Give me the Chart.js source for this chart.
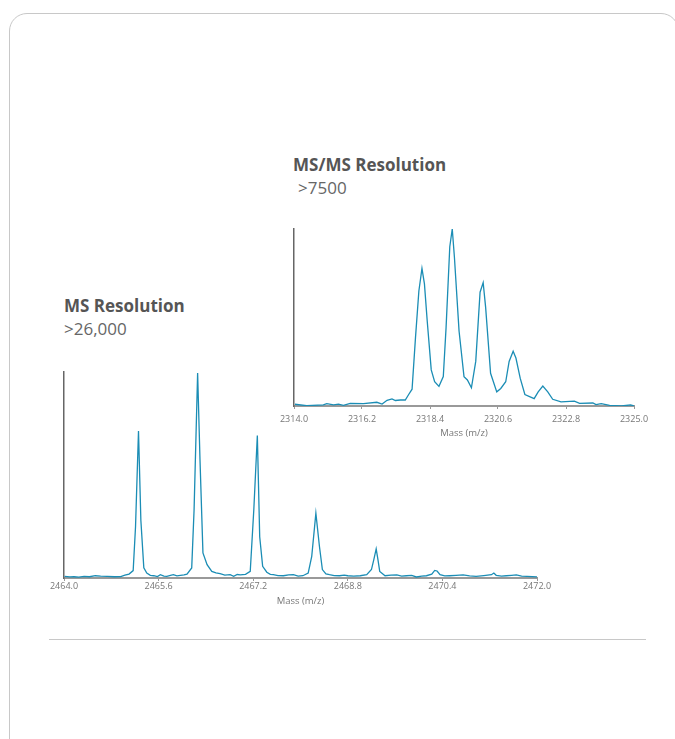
<!DOCTYPE html>
<html>
<head>
<meta charset="utf-8">
<script src="https://cdn.jsdelivr.net/npm/chart.js@4"></script>
<style>
  body { margin: 0; background: #fff; font-family: "Open Sans", sans-serif; overflow: hidden; }
  #card { position: absolute; left: 9px; top: 13px; width: 668px; height: 745px; border: 1px solid #c8c8c8; border-radius: 18px; }
  #rule { position: absolute; left: 49px; top: 639px; width: 597px; height: 0; border-top: 1px solid #c8c8c8; }
  .head { position: absolute; font-size: 17px; line-height: 20px; color: #555; white-space: nowrap; }
  .head.bold { font-weight: 700; }
  .head.sub { color: #666; }
  canvas { position: absolute; }
  #msmsChart { left: 274px; top: 225px; }
  #msChart { left: 44px; top: 368px; }
</style>
</head>
<body>
<div id="card"></div>
<div id="rule"></div>

<div class="head bold" style="left:293px; top:155px;">MS/MS Resolution</div>
<div class="head sub" style="left:298px; top:178px;">&gt;7500</div>
<div class="head bold" style="left:64px; top:296px;">MS Resolution</div>
<div class="head sub" style="left:64px; top:319px;">&gt;26,000</div>

<canvas id="msmsChart" width="380" height="214"></canvas>
<canvas id="msChart" width="513" height="239"></canvas>

<script>
// MS/MS spectrum (top right)
const msmsMass = [
  2314.03, 2314.41, 2314.95, 2315.06, 2315.28, 2315.44, 2315.60, 2315.82, 2316.25, 2316.68,
  2316.85, 2317.01, 2317.17, 2317.28, 2317.44, 2317.60, 2317.71, 2317.82, 2317.93, 2318.04,
  2318.14, 2318.22, 2318.31, 2318.44, 2318.55, 2318.69, 2318.83, 2318.92, 2319.04, 2319.12,
  2319.19, 2319.34, 2319.50, 2319.61, 2319.74, 2319.88, 2320.02, 2320.12, 2320.20, 2320.36,
  2320.56, 2320.69, 2320.85, 2320.96, 2321.09, 2321.18, 2321.32, 2321.47, 2321.64, 2321.77,
  2321.90, 2322.05, 2322.21, 2322.37, 2322.64, 2323.07, 2323.24, 2323.67, 2323.77, 2323.94,
  2324.21, 2324.59, 2324.89, 2325.00
];
const msmsIntensity = [
  1.0, 0.2, 0.6, 1.3, 0.6, 1.0, 0.4, 1.5, 1.3, 2.1,
  1.1, 3.2, 4.0, 3.1, 3.4, 3.4, 6.5, 9.5, 38.5, 65,
  77.7, 69, 48, 20.4, 13.7, 11.1, 16.6, 44.3, 90, 100,
  84, 42.4, 16.6, 14.7, 10.3, 25.2, 64.3, 69.7, 55.7, 18.5,
  8.0, 9.9, 13.7, 25.2, 30.9, 27.1, 15.6, 6.5, 5.2, 4.2,
  8.0, 11.3, 8.0, 3.8, 2.3, 2.7, 1.5, 1.7, 0.8, 1.3,
  0.4, 0.0, 0.6, 0.0
];
const msmsTicks = [2314.0, 2316.2, 2318.4, 2320.6, 2322.8, 2325.0];

// MS spectrum (bottom left)
const msMass = [
  2464.01, 2464.10, 2464.17, 2464.25, 2464.34, 2464.43, 2464.53, 2464.62, 2464.73, 2464.85,
  2464.96, 2465.03, 2465.10, 2465.17, 2465.21, 2465.26, 2465.30, 2465.35, 2465.40, 2465.46,
  2465.52, 2465.58, 2465.63, 2465.69, 2465.74, 2465.80, 2465.85, 2465.91, 2465.97, 2466.03,
  2466.08, 2466.16, 2466.20, 2466.26, 2466.30, 2466.35, 2466.42, 2466.50, 2466.57, 2466.64,
  2466.72, 2466.81, 2466.87, 2466.93, 2466.98, 2467.07, 2467.15, 2467.21, 2467.27, 2467.31,
  2467.36, 2467.43, 2467.49, 2467.54, 2467.62, 2467.71, 2467.80, 2467.88, 2467.96, 2468.04,
  2468.13, 2468.19, 2468.26, 2468.32, 2468.37, 2468.43, 2468.49, 2468.57, 2468.66, 2468.74,
  2468.80, 2468.90, 2469.01, 2469.12, 2469.20, 2469.24, 2469.28, 2469.31, 2469.34, 2469.43,
  2469.53, 2469.63, 2469.71, 2469.79, 2469.88, 2469.96, 2470.05, 2470.13, 2470.22, 2470.27,
  2470.31, 2470.36, 2470.44, 2470.52, 2470.63, 2470.75, 2470.86, 2470.97, 2471.10, 2471.23,
  2471.27, 2471.31, 2471.40, 2471.48, 2471.57, 2471.65, 2471.74, 2471.83, 2471.92, 2472.00
];
const msIntensity = [
  0.8, 0.5, 0.6, 0.4, 0.8, 0.6, 1.1, 0.9, 0.8, 0.6,
  0.7, 1.4, 1.9, 3.6, 25, 71.3, 28, 4.9, 2.4, 1.3,
  1.1, 0.7, 1.6, 0.9, 0.8, 1.3, 1.6, 1.0, 1.3, 1.5,
  1.9, 4.9, 33, 99.5, 57.5, 12.2, 6.5, 3.2, 2.5, 2.1,
  1.4, 1.6, 0.8, 1.7, 1.5, 1.8, 3.2, 33, 69.2, 20,
  5.7, 2.8, 1.8, 1.6, 1.2, 1.1, 1.5, 1.6, 0.9, 1.1,
  2.4, 10.5, 31.5, 15.4, 4.1, 2.0, 1.6, 1.2, 1.1, 1.4,
  1.1, 0.9, 1.1, 1.6, 4.1, 8.9, 14.1, 8.9, 3.2, 1.1,
  1.4, 1.5, 0.9, 1.1, 1.3, 0.5, 0.9, 1.1, 1.9, 3.7,
  3.4, 1.6, 1.0, 1.1, 1.3, 1.5, 1.0, 0.8, 1.2, 1.6,
  2.4, 1.3, 0.9, 1.1, 1.3, 1.5, 0.9, 0.8, 0.7, 0.5
];
const msTicks = [2464.0, 2465.6, 2467.2, 2468.8, 2470.4, 2472.0];

Chart.defaults.font.family = "'Open Sans', sans-serif";

function makeSpectrum(id, mass, intensity, tickValues, tickPad, axisHeight) {
  const ctx = document.getElementById(id).getContext('2d');
  return new Chart(ctx, {
    type: 'line',
    data: {
      datasets: [{
        data: mass.map((m, i) => ({ x: m, y: intensity[i] })),
        borderColor: '#1b8db5',
        borderWidth: 1.3,
        pointRadius: 0,
        tension: 0,
        fill: false,
      }],
    },
    options: {
      responsive: false,
      animation: false,
      layout: { padding: { left: 20, right: 20, top: 4, bottom: 0 } },
      plugins: { legend: { display: false }, tooltip: { enabled: false } },
      scales: {
        x: {
          type: 'linear',
          min: tickValues[0],
          max: tickValues[tickValues.length - 1],
          afterBuildTicks: s => { s.ticks = tickValues.map(v => ({ value: v })); },
          afterFit: s => { s.height = axisHeight; },
          ticks: {
            callback: v => Number(v).toFixed(1),
            font: { size: 9 },
            color: '#777',
            padding: tickPad,
            maxRotation: 0,
            autoSkip: false,
          },
          grid: { display: true, drawOnChartArea: false, drawTicks: true, tickLength: 3, color: '#999' },
          border: { display: true, color: '#999', width: 2 },
          title: { display: true, text: 'Mass (m/z)', font: { size: 9.5 }, color: '#777', padding: 0 },
        },
        y: {
          min: 0,
          max: 100,
          afterFit: s => { s.width = 0; },
          ticks: { display: false },
          grid: { display: false, drawTicks: false },
          border: { display: true, color: '#666', width: 1.5 },
        },
      },
    },
  });
}

makeSpectrum('msmsChart', msmsMass, msmsIntensity, msmsTicks, 5, 33);
makeSpectrum('msChart', msMass, msIntensity, msTicks, 0, 29);
</script>
</body>
</html>
